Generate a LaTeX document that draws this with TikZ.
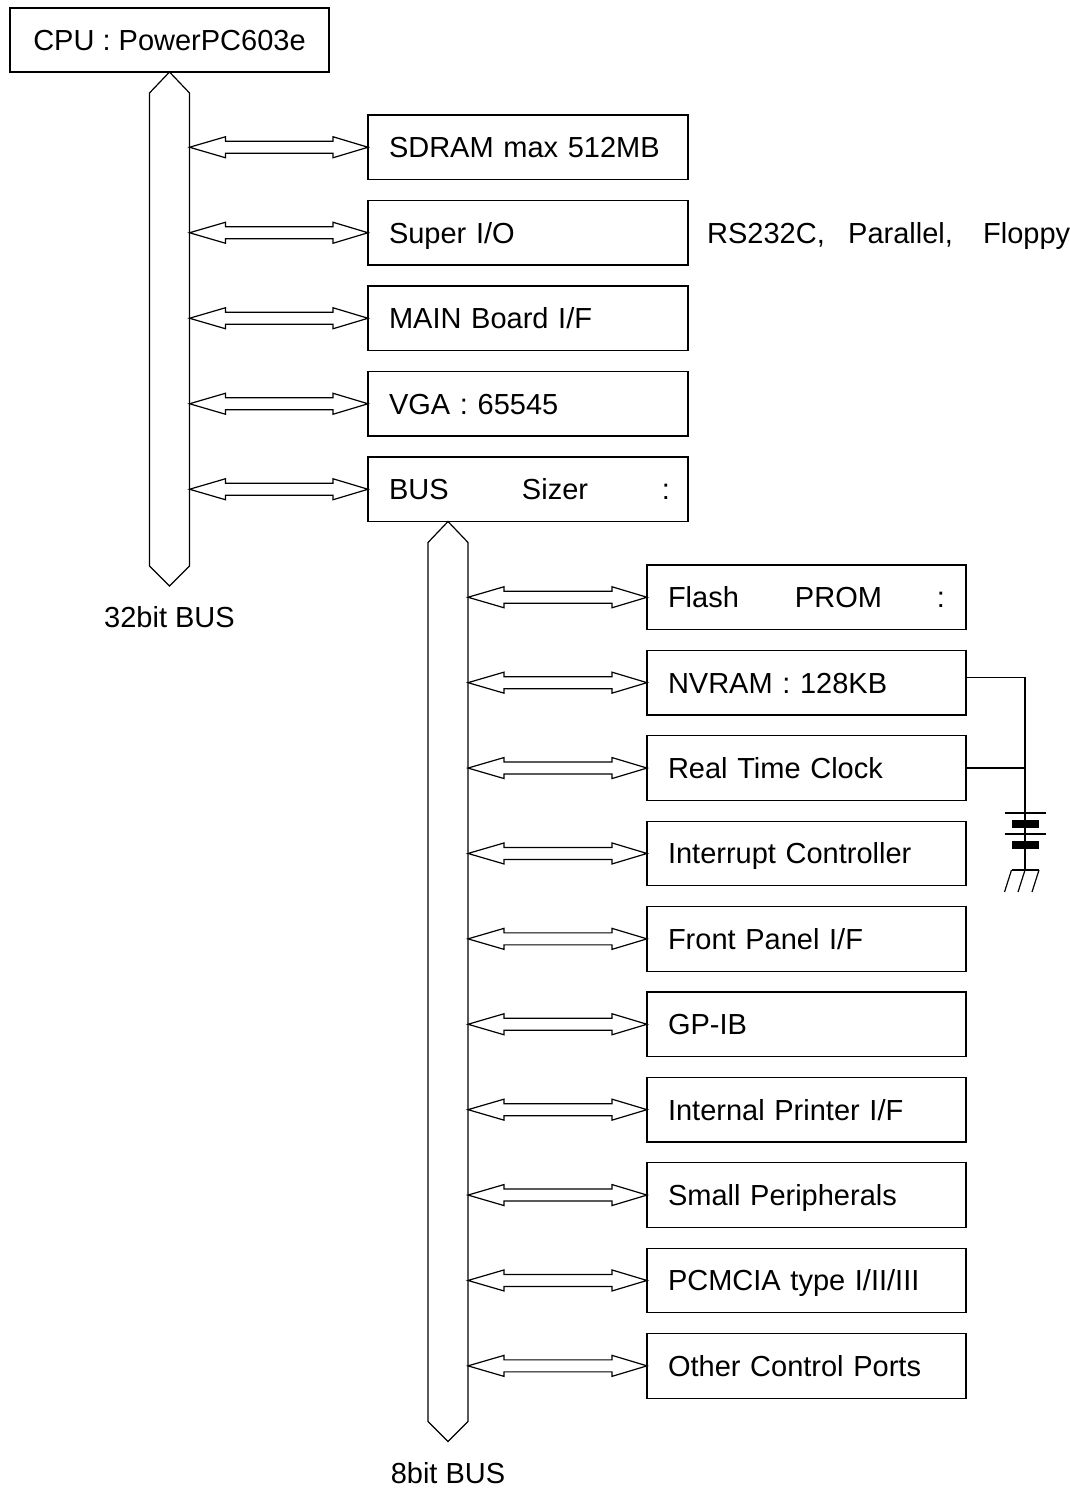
\documentclass[tikz,border=0pt]{standalone}
\usepackage{fontspec}
\setmainfont{Liberation Sans}
\usetikzlibrary{calc}
\tikzset{
  txt/.style={font=\fontsize{29}{34}\selectfont},
  box/.style={txt, draw, line width=1.2pt, rectangle, anchor=north west, outer sep=0pt,
    minimum height=64.5pt, text width=278pt, inner xsep=21pt, inner ysep=0pt,
    align=left, text height=20.8pt, text depth=0pt},
  cpubox/.style={txt, draw, line width=1.2pt, rectangle, anchor=north west, outer sep=0pt,
    minimum width=319pt, minimum height=64pt, inner sep=0pt, text height=20.8pt, text depth=0pt},
  busline/.style={draw, line width=1.2pt, line join=miter},
  arrowline/.style={draw, line width=1.2pt, line join=miter},
  lbl/.style={txt, inner sep=0pt},
  wire/.style={draw, line width=1.2pt},
  plate/.style={fill=black, draw=none}
}
\newcommand\busarrow[2]{%
  \draw[arrowline] let \p1=(#1), \p2=(#2) in
    (\x1,\y1) -- (\x1+36pt,\y1+10.5pt) -- (\x1+36pt,\y1+6pt) -- (\x2-35pt,\y1+6pt)
    -- (\x2-35pt,\y1+10.5pt) -- (\x2,\y1) -- (\x2-35pt,\y1-10.5pt) -- (\x2-35pt,\y1-6pt)
    -- (\x1+36pt,\y1-6pt) -- (\x1+36pt,\y1-10.5pt) -- cycle;}
\begin{document}
\begin{tikzpicture}[x=1pt,y=-1pt]
\useasboundingbox (0,0) rectangle (1070,1488);
% CPU
\node[cpubox] (cpu) at (10,8) {CPU : PowerPC603e};
% first column
\node[box] (sd) at (368,115) {SDRAM max 512MB};
\node[box] (sio) at (368,200.5) {Super I/O};
\node[box] (main) at (368,286) {MAIN Board I/F};
\node[box] (vga) at (368,371.5) {VGA : 65545};
\node[box] (sizer) at (368,457) {\makebox[133pt][l]{BUS}\makebox[140pt][l]{Sizer}:};
\node[lbl, anchor=base west] (ser) at (707,243) {\makebox[141pt][l]{RS232C,}\makebox[135pt][l]{Parallel,}Floppy};
% 32bit bus
\draw[busline] (cpu.south) -- ++(20,21) -- ++(0,473) -- ++(-20,20) -- ++(-20,-20) -- ++(0,-473) -- cycle;
\coordinate (b1r) at ($(cpu.south)+(20,0)$);
\foreach \bx in {sd,sio,main,vga,sizer} { \busarrow{b1r |- \bx.west}{\bx.west} }
\node[lbl, anchor=base] (l32) at (169.5,627) {32bit BUS};
% second column
\node[box, minimum width=319pt, text width=277pt] (flash) at (647,565) {\makebox[127pt][l]{Flash}\makebox[142pt][l]{PROM}:};
\node[box, text width=277pt] (nv) at (647,650.4) {NVRAM : 128KB};
\node[box, text width=277pt] (rtc) at (647,735.8) {Real Time Clock};
\node[box, text width=277pt] (intc) at (647,821.2) {Interrupt Controller};
\node[box, text width=277pt] (fp) at (647,906.6) {Front Panel I/F};
\node[box, text width=277pt] (gpib) at (647,992) {GP-IB};
\node[box, text width=277pt] (prn) at (647,1077.4) {Internal Printer I/F};
\node[box, text width=277pt] (sp) at (647,1162.8) {Small Peripherals};
\node[box, text width=277pt] (pc) at (647,1248.2) {PCMCIA type I/II/III};
\node[box, text width=277pt] (oth) at (647,1333.6) {Other Control Ports};
% 8bit bus
\coordinate (b2t) at ($(sizer.south west)+(80,0)$);
\draw[busline] (b2t) -- ++(20,21) -- ++(0,879) -- ++(-20,20) -- ++(-20,-20) -- ++(0,-879) -- cycle;
\coordinate (b2r) at ($(b2t)+(20,0)$);
\foreach \bx in {flash,nv,rtc,intc,fp,gpib,prn,sp,pc,oth} { \busarrow{b2r |- \bx.west}{\bx.west} }
\node[lbl, anchor=base] (l8) at (448,1483) {8bit BUS};
% battery
\coordinate (bat) at (1025,813);
\coordinate (nvw) at ($(nv.east)+(0,-5.5)$);
\draw[wire] (nvw) -- (nvw -| bat) -- (bat) -- ++(0,57);
\draw[wire] (rtc.east) -- (rtc.east -| bat);
\draw[wire] ($(bat)+(-20.5,0)$) -- ++(41,0);
\fill[plate] ($(bat)+(-13.5,7)$) rectangle ($(bat)+(14,14.5)$);
\draw[wire] ($(bat)+(-20.5,21)$) -- ++(41,0);
\fill[plate] ($(bat)+(-13.5,28)$) rectangle ($(bat)+(14,36)$);
\draw[wire] ($(bat)+(-13.5,57)$) -- ++(27.5,0);
\foreach \dx in {-13.5,0,14} { \draw[wire] ($(bat)+(\dx,57)$) -- ++(-7,22); }
\end{tikzpicture}
\end{document}
